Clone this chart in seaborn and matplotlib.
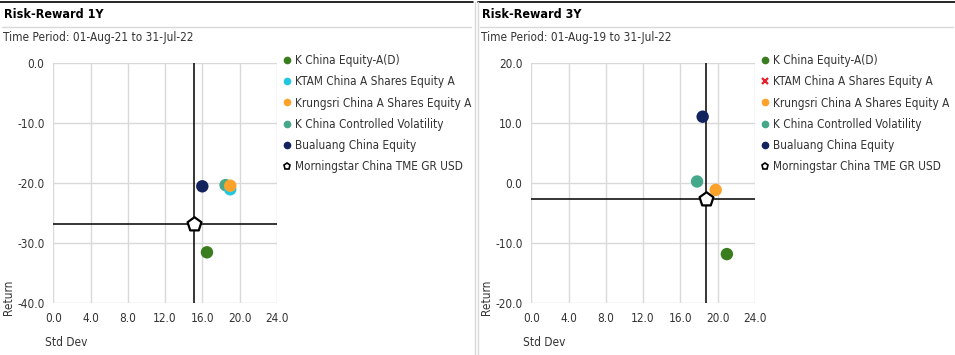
import numpy as np
import pandas as pd
import seaborn as sns
import matplotlib.pyplot as plt
from matplotlib.lines import Line2D

# fund names, legend order
funds = ["K China Equity-A(D)", "KTAM China A Shares Equity A",
         "Krungsri China A Shares Equity A", "K China Controlled Volatility",
         "Bualuang China Equity"]
bench = "Morningstar China TME GR USD"
colors = ["#3a7d1f", "#22c7df", "#fca22a", "#45a88a", "#13235e"]

# 1Y values (std dev, return)
std_1y = [16.5, 19.0, 19.0, 18.5, 16.0]
ret_1y = [-31.5, -21.0, -20.4, -20.3, -20.5]
bench_1y = (15.1, -26.7)

# 3Y values (KTAM has no 3Y data)
std_3y = [21.0, np.nan, 19.8, 17.8, 18.4]
ret_3y = [-11.8, np.nan, -1.1, 0.3, 11.1]
bench_3y = (18.8, -2.6)

xticks = [0, 4, 8, 12, 16, 20, 24]
yticks_1y = [0, -10, -20, -30, -40]
yticks_3y = [20, 10, 0, -10, -20]

# drawing order so that overlapping dots stack like the source
draw_order = [0, 3, 1, 2, 4]

sns.set_style("white")
plt.rcParams["font.family"] = ["DejaVu Sans"]
plt.rcParams["font.stretch"] = "condensed"
plt.rcParams["font.size"] = 8.5

W, H = 955, 355
fig = plt.figure(figsize=(W / 100, H / 100), dpi=100)
palette = dict(zip(funds, colors))
grid_c = "#d9d9d9"
txt_c = "#333333"
fs = 8.5


def panel(x0_px, x1_px, title, period, stds, rets, bench_pt, yticks, ylim, ktam_x):
    # panel frame
    fig.add_artist(Line2D([x0_px / W, x1_px / W], [1 - 2 / H] * 2, color="black", lw=1.2))
    fig.add_artist(Line2D([(x0_px + 2) / W, (x1_px - 2) / W], [1 - 27 / H] * 2, color=grid_c, lw=1))
    fig.text((x0_px + 4) / W, 1 - 15 / H, title, fontsize=9, fontweight="bold",
             va="center", ha="left", color="black")
    fig.text((x0_px + 3) / W, 1 - 38 / H, period, fontsize=fs, va="center", ha="left", color=txt_c)

    ax_x0 = x0_px + 53.3
    ax = fig.add_axes([ax_x0 / W, 1 - 303.3 / H, 223.5 / W, 240 / H])
    df = pd.DataFrame({"fund": [funds[i] for i in draw_order],
                       "std": [stds[i] for i in draw_order],
                       "ret": [rets[i] for i in draw_order]}).dropna()
    sns.scatterplot(data=df, x="std", y="ret", hue="fund", palette=palette, s=80,
                    linewidth=0, legend=False, ax=ax, zorder=4)
    ax.axvline(bench_pt[0], color="black", lw=1.1, zorder=3)
    ax.axhline(bench_pt[1], color="black", lw=1.1, zorder=3)
    bdf = pd.DataFrame({"std": [bench_pt[0]], "ret": [bench_pt[1]]})
    sns.scatterplot(data=bdf, x="std", y="ret", marker="p", s=110, color="white",
                    edgecolor="black", linewidth=1.6, ax=ax, zorder=5)

    ax.set_xlim(0, 24)
    ax.set_ylim(*ylim)
    ax.set_xticks(xticks)
    ax.set_xticklabels([f"{v:.1f}" for v in xticks])
    ax.set_yticks(yticks)
    ax.set_yticklabels([f"{v:.1f}" for v in yticks])
    ax.grid(True, color=grid_c, lw=1, zorder=0)
    ax.set_axisbelow(True)
    for s in ax.spines.values():
        s.set_visible(False)
    ax.tick_params(axis="y", length=4.8, width=1, color=grid_c, pad=1.5, labelsize=fs, labelcolor=txt_c)
    ax.tick_params(axis="x", length=3.6, width=1, color=grid_c, pad=3, labelsize=fs, labelcolor=txt_c)
    ax.set_xlabel("Std Dev", fontsize=fs, color=txt_c, loc="left")
    ax.xaxis.set_label_coords(-0.036, -0.135)
    ax.set_ylabel("Return", fontsize=fs, color=txt_c, loc="bottom")
    ax.yaxis.set_label_coords(-0.17, -0.05)

    # legend
    handles = []
    for i, f in enumerate(funds):
        if f == funds[1] and ktam_x:
            handles.append(Line2D([], [], ls="", marker="x", color="#e8202a",
                                  markersize=5, markeredgewidth=1.6, label=f))
        else:
            handles.append(Line2D([], [], ls="", marker="o", color=colors[i],
                                  markersize=4.5, label=f))
    handles.append(Line2D([], [], ls="", marker="p", markerfacecolor="white",
                          markeredgecolor="black", markeredgewidth=1.2, markersize=5, label=bench))
    ax.legend(handles=handles, loc="upper left", bbox_to_anchor=((x0_px + 283) / W, 1 - 54 / H),
              bbox_transform=fig.transFigure, frameon=False, fontsize=fs,
              handlelength=0.7, handletextpad=0.3, labelspacing=0.7,
              borderaxespad=0, borderpad=0, labelcolor=txt_c)
    return ax


panel(0, 473, "Risk-Reward 1Y", "Time Period: 01-Aug-21 to 31-Jul-22",
      std_1y, ret_1y, bench_1y, yticks_1y, (-40, 0), False)
panel(478, 955, "Risk-Reward 3Y", "Time Period: 01-Aug-19 to 31-Jul-22",
      std_3y, ret_3y, bench_3y, yticks_3y, (-20, 20), True)

# panel borders
fig.add_artist(Line2D([474.5 / W] * 2, [0, 1 - 2 / H], color=grid_c, lw=1))
fig.add_artist(Line2D([477.5 / W] * 2, [0, 1 - 2 / H], color=grid_c, lw=1))

fig.savefig("out.png", dpi=100)
